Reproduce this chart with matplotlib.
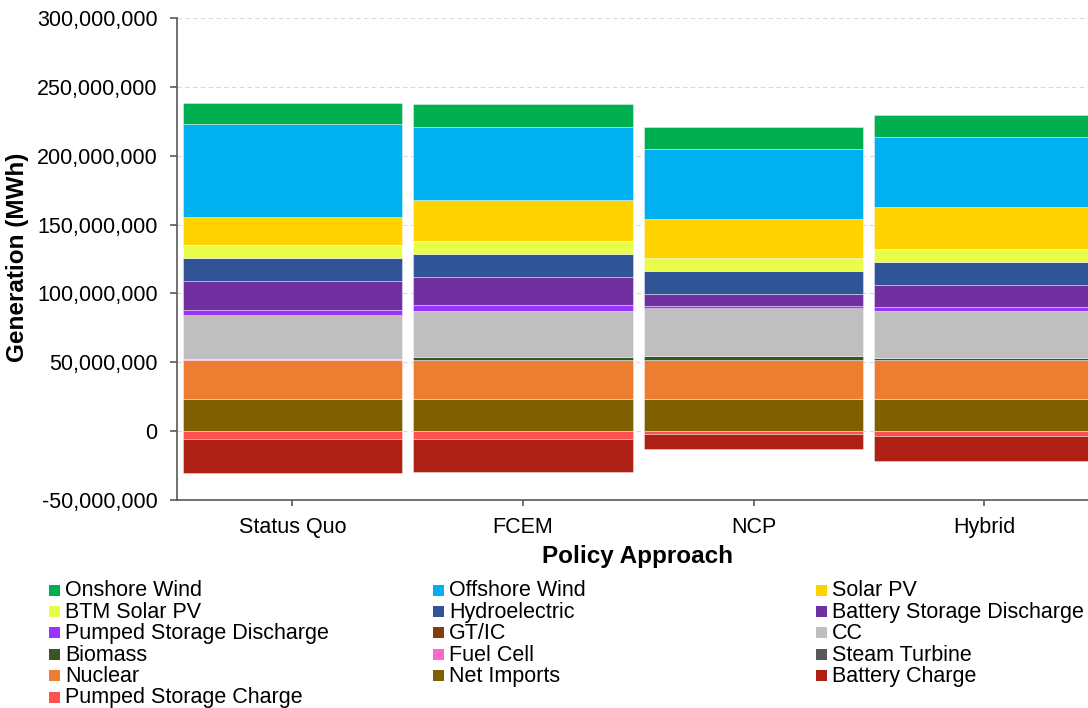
import matplotlib
matplotlib.use("Agg")
import matplotlib.pyplot as plt
import matplotlib.ticker as mticker
from matplotlib.patches import Rectangle
import numpy as np

plt.rcParams['font.family'] = ['Liberation Sans', 'DejaVu Sans']

categories = ["Status Quo", "FCEM", "NCP", "Hybrid"]

# Values in millions of MWh
net_imports = [23.0, 23.0, 23.0, 23.0]
nuclear = [28.6, 28.6, 28.6, 28.6]
steam_turbine = [0.0, 0.0, 0.0, 0.0]
fuel_cell = [1.0, 0.0, 0.0, 0.0]
biomass = [0.0, 2.4, 3.1, 1.6]
cc = [31.0, 33.2, 34.2, 34.2]
gt_ic = [0.4, 0.3, 0.2, 0.2]
pumped_discharge = [3.7, 3.8, 1.7, 2.5]
battery_discharge = [21.1, 20.4, 8.5, 15.8]
hydro = [16.9, 16.9, 17.0, 16.7]
btm_solar = [9.7, 9.5, 9.6, 9.7]
solar_pv = [20.4, 29.8, 28.4, 30.5]
offshore_wind = [67.1, 52.8, 50.9, 50.9]
onshore_wind = [15.3, 16.5, 15.5, 16.0]
pumped_charge = [-6.0, -6.0, -2.4, -3.6]
battery_charge = [-24.3, -23.6, -10.7, -18.0]

scale = 1e6

pos_series = [
    ("Net Imports", net_imports, "#7F6000"),
    ("Nuclear", nuclear, "#ED7D31"),
    ("Steam Turbine", steam_turbine, "#595959"),
    ("Fuel Cell", fuel_cell, "#FF66CC"),
    ("Biomass", biomass, "#375623"),
    ("CC", cc, "#BFBFBF"),
    ("GT/IC", gt_ic, "#843C0C"),
    ("Pumped Storage Discharge", pumped_discharge, "#9933FF"),
    ("Battery Storage Discharge", battery_discharge, "#7030A0"),
    ("Hydroelectric", hydro, "#305496"),
    ("BTM Solar PV", btm_solar, "#E8FC4A"),
    ("Solar PV", solar_pv, "#FFD300"),
    ("Offshore Wind", offshore_wind, "#00B0F0"),
    ("Onshore Wind", onshore_wind, "#00B050"),
]
neg_series = [
    ("Pumped Storage Charge", pumped_charge, "#FF5050"),
    ("Battery Charge", battery_charge, "#AE1F14"),
]
colors = {n: c for n, _, c in pos_series + neg_series}

W, H = 1088, 708
fig = plt.figure(figsize=(W / 100, H / 100), dpi=100)
ax = fig.add_axes([177 / W, 1 - 500 / H, 922.6 / W, 482 / H])

x = np.arange(len(categories))
width = 0.952
bottom = np.zeros(len(categories))
for name, vals, col in pos_series:
    v = np.array(vals) * scale
    ax.bar(x, v, width, bottom=bottom, color=col, edgecolor=(1, 1, 1, 0.45),
           linewidth=0.6, zorder=3)
    bottom += v
nb = np.zeros(len(categories))
for name, vals, col in neg_series:
    v = np.array(vals) * scale
    ax.bar(x, v, width, bottom=nb, color=col, edgecolor=(1, 1, 1, 0.45),
           linewidth=0.6, zorder=3)
    nb += v

ax.set_xlim(-0.5, 3.5)
ax.set_ylim(-50e6, 300e6)
ax.set_yticks(np.arange(-50e6, 300e6 + 1, 50e6))
ax.yaxis.set_major_formatter(mticker.FuncFormatter(lambda v, p: f"{int(round(v)):,}"))
ax.set_xticks(x)
ax.set_xticklabels(categories)
ax.grid(axis='y', linestyle=(0, (4, 3)), color='#D9D9D9', linewidth=0.8, zorder=0)
for s in ['top', 'right']:
    ax.spines[s].set_visible(False)
for s in ['left', 'bottom']:
    ax.spines[s].set_color('#595959')
    ax.spines[s].set_linewidth(1.2)
ax.tick_params(axis='y', labelsize=15.5, length=5, width=1.2, color='#595959', pad=9)
ax.tick_params(axis='x', labelsize=15.5, length=4, width=1.2, color='#595959', pad=8)

fig.text(18 / W, 1 - 257 / H, "Generation (MWh)", rotation=90, ha='center', va='center',
         fontsize=17.5, fontweight='bold')
fig.text(637 / W, 1 - 557 / H, "Policy Approach", ha='center', va='center',
         fontsize=17.5, fontweight='bold')

legend_cols = [
    ["Onshore Wind", "BTM Solar PV", "Pumped Storage Discharge", "Biomass", "Nuclear", "Pumped Storage Charge"],
    ["Offshore Wind", "Hydroelectric", "GT/IC", "Fuel Cell", "Net Imports"],
    ["Solar PV", "Battery Storage Discharge", "CC", "Steam Turbine", "Battery Charge"],
]
col_x = [49, 433, 816]
row0 = 590
row_step = 21.4
msize = 11
fs_leg = 15.5
for cx, names in zip(col_x, legend_cols):
    for i, n in enumerate(names):
        cy = row0 + row_step * i
        fig.add_artist(Rectangle((cx / W, 1 - (cy + msize / 2) / H), msize / W, msize / H,
                                 transform=fig.transFigure, facecolor=colors[n],
                                 edgecolor='none'))
        fig.text((cx + 16) / W, 1 - (cy + 6.5) / H, n, ha='left', va='baseline',
                 fontsize=fs_leg)

fig.savefig("out.png", dpi=100)
